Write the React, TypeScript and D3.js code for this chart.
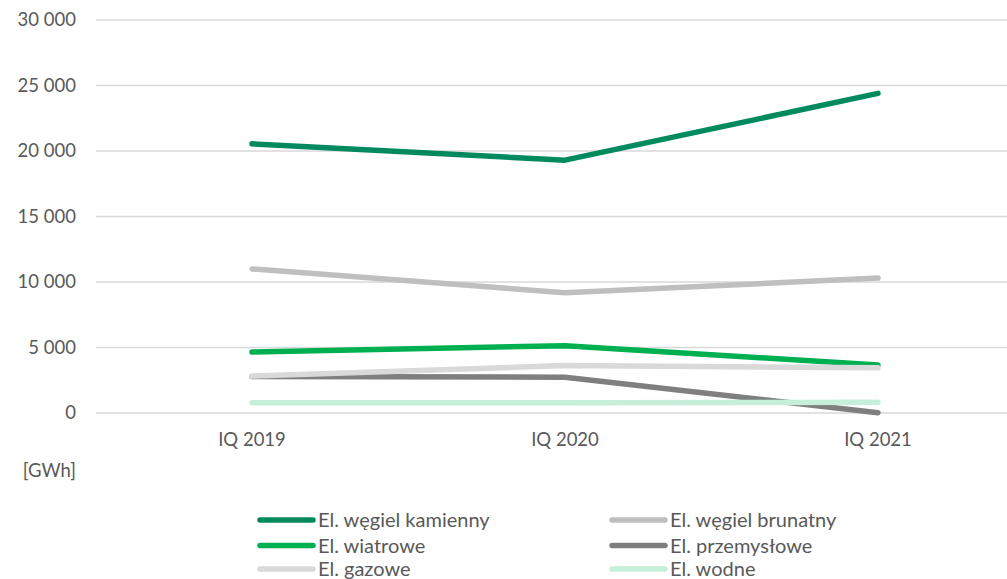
import React from "react";
import * as d3 from "d3";

const categories = ["IQ 2019", "IQ 2020", "IQ 2021"];
const seriesNames = [
  "El. węgiel kamienny",
  "El. węgiel brunatny",
  "El. wiatrowe",
  "El. przemysłowe",
  "El. gazowe",
  "El. wodne",
];
const kamienny = [20550, 19300, 24400];
const brunatny = [11000, 9180, 10300];
const wiatrowe = [4660, 5140, 3660];
const przemyslowe = [2790, 2730, 20];
const gazowe = [2820, 3620, 3450];
const wodne = [790, 790, 820];
const seriesValues = [kamienny, brunatny, wiatrowe, przemyslowe, gazowe, wodne];
const seriesColors = ["#008A5E", "#BFBFBF", "#00B050", "#7F7F7F", "#D9D9D9", "#C6EFD9"];
const yTicks = [0, 5000, 10000, 15000, 20000, 25000, 30000];

const W = 1007;
const H = 579;
const FONT = "Lato, 'Open Sans', sans-serif";
const TXT = "#595959";

export default function App() {
  const x = d3.scaleBand<string>().domain(categories).range([95.5, 1034.5]).padding(0);
  const y = d3.scaleLinear().domain([0, 30000]).range([413, 20]);
  const fmt = (v: number) => d3.format(",")(v).replace(/,/g, " ");
  const line = d3
    .line<number>()
    .x((_, i) => (x(categories[i]) as number) + x.bandwidth() / 2)
    .y((d) => y(d));

  const legendPos = [
    [256, 520],
    [608, 520],
    [256, 545.5],
    [608, 545.5],
    [256, 569],
    [608, 569],
  ];

  return (
    <svg
      width={W}
      height={H}
      style={{ position: "absolute", left: 0, top: 0, background: "#fff" }}
      fontFamily={FONT}
    >
      {yTicks.map((t) => (
        <g key={t}>
          <line x1={96} x2={W} y1={y(t)} y2={y(t)} stroke="#D9D9D9" strokeWidth={1.3} />
          <text x={76} y={y(t)} dy="0.35em" textAnchor="end" fontSize={18.5} fill={TXT}>
            {fmt(t)}
          </text>
        </g>
      ))}
      {categories.map((c) => (
        <text
          key={c}
          x={(x(c) as number) + x.bandwidth() / 2}
          y={440}
          dy="0.35em"
          textAnchor="middle"
          fontSize={18.5}
          fill={TXT}
        >
          {c}
        </text>
      ))}
      <text x={76} y={471} dy="0.35em" textAnchor="end" fontSize={18.5} fill={TXT}>
        [GWh]
      </text>
      {seriesValues.map((vals, i) => (
        <path
          key={seriesNames[i]}
          d={line(vals) as string}
          fill="none"
          stroke={seriesColors[i]}
          strokeWidth={5.5}
          strokeLinecap="round"
          strokeLinejoin="round"
        />
      ))}
      {seriesNames.map((n, i) => (
        <g key={n} transform={`translate(${legendPos[i][0]},${legendPos[i][1]})`}>
          <line x1={4} x2={57} y1={0} y2={0} stroke={seriesColors[i]} strokeWidth={5.5} strokeLinecap="round" />
          <text x={62} y={0} dy="0.35em" fontSize={20} fill={TXT}>
            {n}
          </text>
        </g>
      ))}
    </svg>
  );
}
